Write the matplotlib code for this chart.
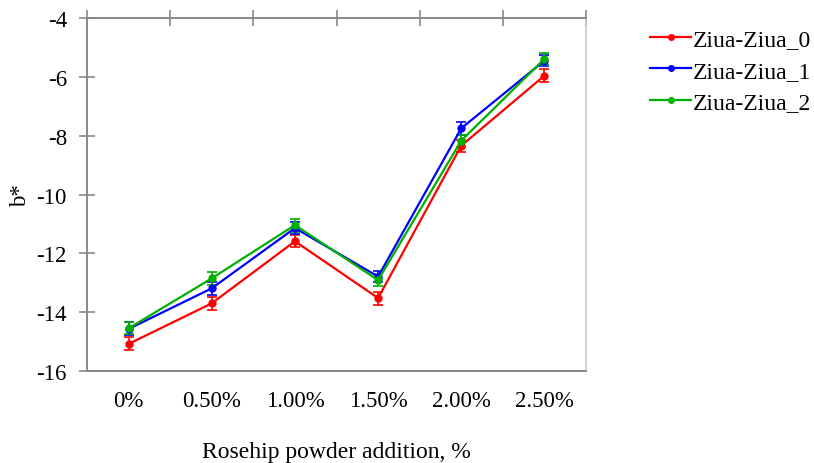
import matplotlib
matplotlib.use("Agg")
import matplotlib.pyplot as plt
from matplotlib.ticker import FixedLocator
from matplotlib.lines import Line2D
import numpy as np

plt.rcParams['font.family'] = ['Liberation Serif', 'DejaVu Serif']

categories = ["0%", "0.50%", "1.00%", "1.50%", "2.00%", "2.50%"]
series_names = ["Ziua-Ziua_0", "Ziua-Ziua_1", "Ziua-Ziua_2"]
series_colors = ["#ff0000", "#0000ff", "#00b000"]

day0 = [-15.08, -13.70, -11.59, -13.52, -8.34, -5.96]
day1 = [-14.57, -13.19, -11.14, -12.79, -7.75, -5.45]
day2 = [-14.55, -12.85, -11.04, -12.91, -8.17, -5.39]

err0 = [0.22, 0.22, 0.20, 0.22, 0.20, 0.22]
err1 = [0.22, 0.22, 0.20, 0.18, 0.22, 0.18]
err2 = [0.20, 0.22, 0.22, 0.20, 0.20, 0.20]

yticks = [-4, -6, -8, -10, -12, -14, -16]

values = [day0, day1, day2]
errors = [err0, err1, err2]

FS = 16.5

fig = plt.figure(figsize=(8.14, 4.64), dpi=100)
ax = fig.add_axes([0.1069, 0.1983, 0.6130, 0.7607])

x = np.arange(len(categories)) + 0.5
handles = []
for name, col, v, e in zip(series_names, series_colors, values, errors):
    ax.errorbar(x, v, yerr=e, color=col, marker='o', markersize=5,
                linewidth=1.6, capsize=3.8, capthick=1.2, elinewidth=1.2)
    handles.append(Line2D([], [], color=col, marker='o', markersize=4,
                          linewidth=1.6, label=name))

ax.set_xlim(0, len(categories))
ax.set_ylim(-16, -4)
ax.set_yticks(yticks)
ax.set_yticklabels([str(t) for t in yticks])

ax.set_xticks(x)
ax.set_xticklabels(categories)
ax.xaxis.set_minor_locator(FixedLocator(range(len(categories) + 1)))
ax.tick_params(axis='x', which='major', length=0, pad=14, labelsize=FS)
ax.tick_params(axis='x', which='minor', bottom=False, top=True,
               direction='inout', length=12, color='#898989', width=1.2)
ax.tick_params(axis='y', direction='inout', length=12, color='#898989',
               width=1.2, labelsize=FS, pad=8.5)

for side in ['left', 'top', 'bottom']:
    ax.spines[side].set_color('#898989')
    ax.spines[side].set_linewidth(1.4)
ax.spines['right'].set_color('#c8c8c8')
ax.spines['right'].set_linewidth(1.2)

ax.set_xlabel("Rosehip powder addition, %", fontsize=17, labelpad=21)
ax.set_ylabel("b*", fontsize=FS, labelpad=4)

fig.legend(handles=handles, loc='upper left', bbox_to_anchor=(0.7985, 0.936),
           frameon=False, fontsize=17, handlelength=1.75, handletextpad=0.08,
           labelspacing=0.42, borderaxespad=0, borderpad=0)

fig.savefig("out.png", dpi=100)
